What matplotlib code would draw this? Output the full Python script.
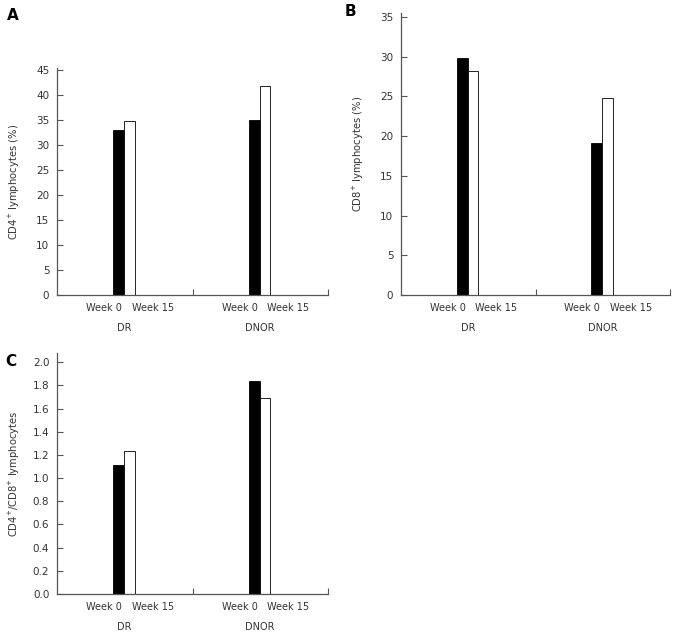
import matplotlib
matplotlib.use("Agg")
import matplotlib.pyplot as plt

plt.rcParams["font.family"] = ["DejaVu Sans"]
plt.rcParams["font.size"] = 7

groups = ["DR", "DNOR"]
weeks = ["Week 0", "Week 15"]

cd4_week0 = [33.0, 35.0]
cd4_week15 = [34.8, 41.7]
cd8_week0 = [29.8, 19.1]
cd8_week15 = [28.2, 24.8]
ratio_week0 = [1.11, 1.84]
ratio_week15 = [1.23, 1.69]

panels = [
    # letter, week0, week15, ylabel, ylim top, yticks, fmt, axes rect, letter pos (px)
    ("A", cd4_week0, cd4_week15, "CD4$^{+}$ lymphocytes (%)", 45.4,
     range(0, 46, 5), "{:.0f}", [57, 68, 328, 295], (13, 15)),
    ("B", cd8_week0, cd8_week15, "CD8$^{+}$ lymphocytes (%)", 35.5,
     range(0, 36, 5), "{:.0f}", [401, 13, 670, 295], (350, 11)),
    ("C", ratio_week0, ratio_week15, "CD4$^{+}$/CD8$^{+}$ lymphocytes", 2.08,
     [i * 0.2 for i in range(11)], "{:.1f}", [57, 353, 328, 594], (11, 362)),
]

W, H = 678, 635
fig = plt.figure(figsize=(W / 100, H / 100), dpi=100)

axis_color = "#555555"
text_color = "#333333"
bar_w = 0.08
centers = [0.5, 1.5]

for letter, w0, w15, ylabel, ytop, yticks, fmt, rect, lpos in panels:
    x0, y0, x1, y1 = rect
    ax = fig.add_axes([x0 / W, 1 - y1 / H, (x1 - x0) / W, (y1 - y0) / H])
    ax.bar([c - bar_w / 2 - 0.005 for c in centers], w0, width=bar_w,
           color="black", edgecolor="black", linewidth=0.6)
    ax.bar([c + bar_w / 2 - 0.005 for c in centers], w15, width=bar_w,
           color="white", edgecolor="black", linewidth=0.6)

    ax.set_xlim(0, 2)
    ax.set_ylim(0, ytop)
    ax.set_yticks(list(yticks))
    ax.set_yticklabels([fmt.format(v) for v in yticks])
    ax.set_xticks([1, 2])
    ax.set_xticklabels([])
    ax.tick_params(axis="both", direction="in", length=4, width=0.8,
                   color=axis_color, labelcolor=text_color, labelsize=7.5)
    ax.tick_params(axis="y", pad=5.5)
    for side in ("top", "right"):
        ax.spines[side].set_visible(False)
    for side in ("left", "bottom"):
        ax.spines[side].set_color(axis_color)
        ax.spines[side].set_linewidth(0.9)

    ax.set_ylabel(ylabel, color=text_color, fontsize=7.2)
    ax.yaxis.set_label_coords(-35 / (x1 - x0), 0.5)

    for c, g in zip(centers, groups):
        for off, wk in zip((-0.153, 0.208), weeks):
            ax.annotate(wk, xy=(c + off, 0), xycoords=("data", "axes fraction"),
                        xytext=(0, -9.5), textcoords="offset points",
                        ha="center", va="center", color=text_color, fontsize=7)
        ax.annotate(g, xy=(c, 0), xycoords=("data", "axes fraction"),
                    xytext=(0, -23.5), textcoords="offset points",
                    ha="center", va="center", color=text_color, fontsize=7)

    fig.text(lpos[0] / W, 1 - lpos[1] / H, letter, fontsize=11,
             fontweight="bold", ha="center", va="center")

fig.savefig("out.png", dpi=100)
